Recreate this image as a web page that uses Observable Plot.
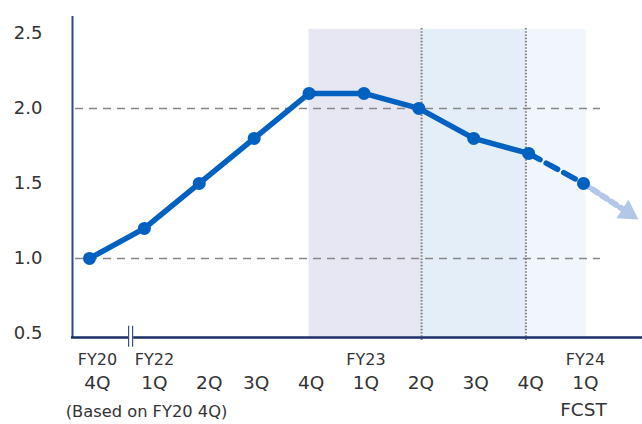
<!DOCTYPE html>
<html>
<head>
<meta charset="utf-8">
<script src="https://cdn.jsdelivr.net/npm/d3@7"></script>
<script src="https://cdn.jsdelivr.net/npm/@observablehq/plot@0.6"></script>
<style>
  html, body { margin: 0; padding: 0; background: #fff; }
  #chart { width: 642px; height: 424px; }
</style>
</head>
<body>
<div id="chart"></div>
<script>
// ---- data ----
const quarters = ["4Q", "1Q", "2Q", "3Q", "4Q", "1Q", "2Q", "3Q", "4Q", "1Q"];
const fiscalYears = ["FY20", "FY22", "", "", "", "FY23", "", "", "", "FY24"];
const values = [1.0, 1.2, 1.5, 1.8, 2.1, 2.1, 2.0, 1.8, 1.7, 1.5];
const yTicks = [0.5, 1.0, 1.5, 2.0, 2.5];
const gridValues = [1.0, 2.0];
const bandEdges = [4, 6.05, 7.95, 9.05];   // shaded period bands (in quarter index)
const forecastTip = {x: 10.0, y: 1.26};    // end of the trend arrow
const note = "(Based on FY20 4Q)";
const forecastLabel = "FCST";

// ---- build ----
const pts = values.map((v, i) => ({i, v, q: quarters[i], fy: fiscalYears[i]}));
const actual = pts.slice(0, values.length - 1);
const fcstSeg = pts.slice(values.length - 2);
const bands = [
  {x1: bandEdges[0], x2: bandEdges[1], k: 0},
  {x1: bandEdges[1], x2: bandEdges[2], k: 1},
  {x1: bandEdges[2], x2: bandEdges[3], k: 2}
];
const bandFill = ["#e6e7f3", "#e3eef9", "#f0f6fc"];
const yMin = 0.473, yMax = 2.613, bandTop = 2.527;
const xMin = -0.328, xMax = 10.075;

// arrow geometry (from last point to tip)
const last = pts[pts.length - 1];
const pxPerX = 54.9, pxPerY = 150;
const dxp = (forecastTip.x - last.i) * pxPerX, dyp = -(forecastTip.y - last.v) * pxPerY;
const len = Math.hypot(dxp, dyp);
const ux = dxp / len, uy = dyp / len;
const triH = 19, triCent = triH * 2 / 3;
const toData = (px, py) => ({x: last.i + px / pxPerX, y: last.v - py / pxPerY});
const triC = toData(dxp - ux * triCent, dyp - uy * triCent);
const triBase = toData(dxp - ux * triH, dyp - uy * triH);
const angle = Math.atan2(ux, -uy) * 180 / Math.PI;

const labelShift = i => (i === 0 ? 8 : i <= 2 ? 10 : 2);

const chart = Plot.plot({
  width: 642,
  height: 424,
  marginLeft: 71,
  marginRight: 0,
  marginTop: 16,
  marginBottom: 87,
  style: {fontFamily: "'DejaVu Sans', Verdana, sans-serif", color: "#333", background: "#fff"},
  x: {domain: [xMin, xMax], axis: null},
  y: {domain: [yMin, yMax], axis: null},
  marks: [
    Plot.rect(bands, {x1: "x1", x2: "x2", y1: yMin, y2: bandTop, fill: d => bandFill[d.k]}),
    Plot.ruleY(gridValues, {x1: -0.255, x2: 9.31, stroke: "#888", strokeWidth: 1.6, strokeDasharray: "8,6"}),
    Plot.ruleX(bandEdges.slice(1, 3), {y1: yMin - 0.02, y2: bandTop + 0.01, stroke: "#808080", strokeWidth: 2, strokeDasharray: "1.6,1.6"}),
    // axes lines
    Plot.ruleX([xMin], {y1: yMin, y2: yMax, stroke: "#2d4a8a", strokeWidth: 2, dx: 1}),
    Plot.ruleY([yMin], {x1: xMin, x2: xMax, stroke: "#1c2f6c", strokeWidth: 2.5}),
    // axis break
    Plot.ruleX([0.75], {y1: yMin - 0.07, y2: yMin + 0.08, stroke: "#fff", strokeWidth: 5}),
    Plot.ruleX([0.75], {y1: yMin - 0.065, y2: yMin + 0.075, stroke: "#1c2f6c", strokeWidth: 1, dx: -2}),
    Plot.ruleX([0.75], {y1: yMin - 0.065, y2: yMin + 0.075, stroke: "#1c2f6c", strokeWidth: 1, dx: 2}),
    // y tick labels
    Plot.text(yTicks, {x: xMin, y: d => d, text: d => d3.format(".1f")(d), textAnchor: "end", dx: -29, fontSize: 18, fill: "#333"}),
    // forecast arrow
    Plot.line([{x: last.i, y: last.v}, {x: triBase.x, y: triBase.y}], {x: "x", y: "y", stroke: "#b3c7e8", strokeWidth: 6, strokeDasharray: "6,5"}),
    Plot.dot([triC], {x: "x", y: "y", symbol: "triangle", r: 8.2, rotate: angle, fill: "#b3c7e8", stroke: "none"}),
    // data lines
    Plot.line(actual, {x: "i", y: "v", stroke: "#0061c1", strokeWidth: 5.5, strokeLinejoin: "round"}),
    Plot.line(fcstSeg, {x: "i", y: "v", stroke: "#0061c1", strokeWidth: 5.5, strokeDasharray: "13,7"}),
    Plot.dot(pts, {x: "i", y: "v", r: 6.5, fill: "#0061c1", stroke: "none"}),
    // x labels
    ...pts.map(d => Plot.text([d], {x: "i", y: yMin, text: "fy", dy: 22.5, dx: labelShift(d.i), fontSize: 16, fill: "#333"})),
    ...pts.map(d => Plot.text([d], {x: "i", y: yMin, text: "q", dy: 45.5, dx: labelShift(d.i), fontSize: 18.5, fill: "#333"})),
    Plot.text([last], {x: "i", y: yMin, text: () => forecastLabel, dy: 72.5, dx: 0, fontSize: 18.5, fill: "#333"}),
    Plot.text([note], {frameAnchor: "bottom-left", text: d => d, dx: 75, dy: 79, textAnchor: "middle", fontSize: 16.3, fill: "#333"})
  ]
});
document.getElementById("chart").appendChild(chart);
</script>
</body>
</html>
